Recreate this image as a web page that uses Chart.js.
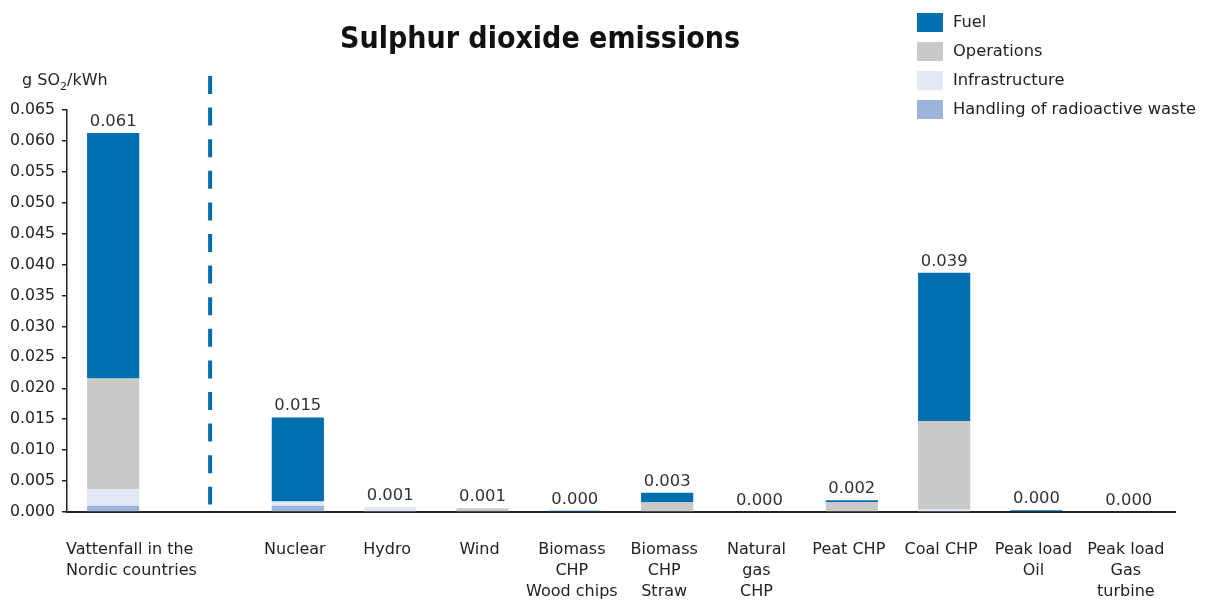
<!DOCTYPE html>
<html>
<head>
<meta charset="utf-8">
<title>Sulphur dioxide emissions</title>
<script src="https://cdn.jsdelivr.net/npm/chart.js@4.4.1/dist/chart.umd.min.js"></script>
<style>
  html, body { margin: 0; padding: 0; background: #ffffff; }
  #wrap { width: 1206px; height: 601px; position: relative; }
</style>
</head>
<body>
<div id="wrap"><canvas id="c" width="1206" height="601"></canvas></div>
<script>
// Power sources (slot 1 is the empty gap holding the dashed separator)
const categories = [
  ["Vattenfall in the", "Nordic countries"],
  "",
  "Nuclear",
  "Hydro",
  "Wind",
  ["Biomass", "CHP", "Wood chips"],
  ["Biomass", "CHP", "Straw"],
  ["Natural", "gas", "CHP"],
  "Peat CHP",
  "Coal CHP",
  ["Peak load", "Oil"],
  ["Peak load", "Gas", "turbine"]
];

// g SO2 per kWh, by life-cycle stage
const fuel           = [0.0397, null, 0.0136, 0,      0,      0.0002, 0.0015, 0, 0.0003, 0.0240, 0.0003, 0];
const operations     = [0.0179, null, 0,      0,      0.0006, 0,      0.0016, 0, 0.0016, 0.0142, 0,      0];
const infrastructure = [0.0027, null, 0.0007, 0.0008, 0,      0,      0,      0, 0,      0.0005, 0,      0];
const radioactive    = [0.0010, null, 0.0010, 0,      0,      0,      0,      0, 0,      0,      0,      0];

const yTicks = { min: 0, max: 0.065, step: 0.005 };
const separatorAt = 1.05;          // category position of the dashed divider
const separatorSpan = [0.0012, 0.0705];

const FONT = "'DejaVu Sans', Verdana, sans-serif";
const TITLE_FONT = "'DejaVu Sans Condensed', 'DejaVu Sans', sans-serif";
const TEXT = "#222222";

const overlay = {
  id: 'overlay',
  afterDraw(chart) {
    const ctx = chart.ctx;
    const x = chart.scales.x, y = chart.scales.y;
    const area = chart.chartArea;
    ctx.save();

    // title
    ctx.fillStyle = "#111111";
    ctx.font = "bold 30px " + TITLE_FONT;
    ctx.textAlign = "center";
    ctx.textBaseline = "alphabetic";
    ctx.fillText("Sulphur dioxide emissions", 540, 48);

    // unit label
    ctx.fillStyle = TEXT;
    ctx.textAlign = "left";
    ctx.font = "16px " + FONT;
    let ux = 22, uy = 85;
    ctx.fillText("g SO", ux, uy);
    ux += ctx.measureText("g SO").width;
    ctx.font = "11px " + FONT;
    ctx.fillText("2", ux, uy + 5);
    ux += ctx.measureText("2").width;
    ctx.font = "16px " + FONT;
    ctx.fillText("/kWh", ux, uy);

    // dashed divider
    const sx = x.getPixelForValue(separatorAt);
    ctx.strokeStyle = "#006eaf";
    ctx.lineWidth = 4;
    ctx.setLineDash([18, 13.6]);
    ctx.beginPath();
    ctx.moveTo(sx, y.getPixelForValue(separatorSpan[1]));
    ctx.lineTo(sx, y.getPixelForValue(separatorSpan[0]));
    ctx.stroke();
    ctx.setLineDash([]);

    // totals above stacks
    ctx.font = "16.4px " + FONT;
    ctx.textAlign = "center";
    ctx.fillStyle = "#333333";
    categories.forEach((c, i) => {
      if (fuel[i] === null) return;
      const total = fuel[i] + operations[i] + infrastructure[i] + radioactive[i];
      ctx.fillText(total.toFixed(3), x.getPixelForValue(i), y.getPixelForValue(total) - 7);
    });

    // category labels
    ctx.fillStyle = TEXT;
    ctx.font = "16px " + FONT;
    ctx.textBaseline = "middle";
    categories.forEach((c, i) => {
      const lines = Array.isArray(c) ? c : [c];
      if (i === 0) {
        ctx.textAlign = "left";
        lines.forEach((t, k) => ctx.fillText(t, area.left - 1, 550 + k * 21));
      } else {
        ctx.textAlign = "center";
        lines.forEach((t, k) => ctx.fillText(t, x.getPixelForValue(i) - 3, 550 + k * 21));
      }
    });

    // legend (top-down order: Fuel first)
    ctx.textAlign = "left";
    ctx.font = "16.3px " + FONT;
    const ds = chart.data.datasets.slice().reverse();
    ds.forEach((d, k) => {
      const top = 13 + k * 29;
      ctx.fillStyle = d.backgroundColor;
      ctx.fillRect(917, top, 26, 19);
      ctx.fillStyle = TEXT;
      ctx.fillText(d.label, 953, top + 10);
    });

    ctx.restore();
  }
};

new Chart(document.getElementById('c'), {
  type: 'bar',
  data: {
    labels: categories,
    datasets: [
      { label: "Handling of radioactive waste", data: radioactive,    backgroundColor: "#9bb4d9" },
      { label: "Infrastructure",                data: infrastructure, backgroundColor: "#e2e9f4" },
      { label: "Operations",                    data: operations,     backgroundColor: "#c9c9c7" },
      { label: "Fuel",                          data: fuel,           backgroundColor: "#006eaf" }
    ]
  },
  options: {
    responsive: false,
    animation: false,
    events: [],
    layout: { padding: { top: 110, right: 31, bottom: 0, left: 0 } },
    datasets: { bar: { categoryPercentage: 0.565, barPercentage: 1, borderWidth: 0 } },
    plugins: {
      legend: { display: false },
      title: { display: false },
      tooltip: { enabled: false }
    },
    scales: {
      x: {
        stacked: true,
        grid: { display: false },
        border: { display: true, color: "#222222", width: 2 },
        ticks: { display: false },
        afterFit: s => { s.height = 89; }
      },
      y: {
        stacked: true,
        min: yTicks.min,
        max: yTicks.max,
        grid: { display: true, drawOnChartArea: false, drawTicks: true, tickLength: 5, color: "#222222", lineWidth: 1.5 },
        border: { display: true, color: "#222222", width: 1.5 },
        ticks: {
          stepSize: yTicks.step,
          padding: 7,
          color: TEXT,
          font: { family: FONT, size: 15.7 },
          callback: v => v.toFixed(3)
        },
        afterFit: s => { s.width = 67; }
      }
    }
  },
  plugins: [overlay]
});
</script>
</body>
</html>
